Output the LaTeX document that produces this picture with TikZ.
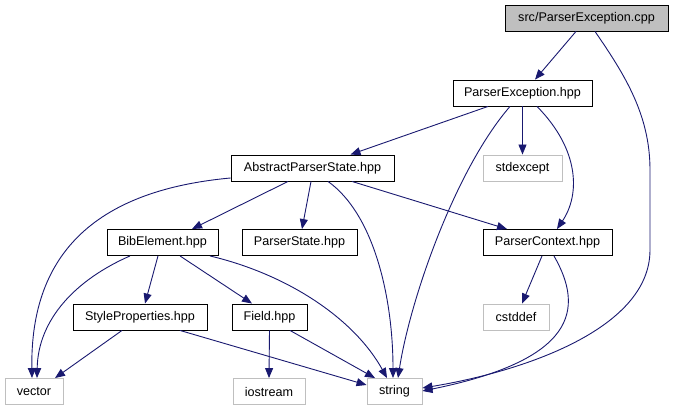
\documentclass[tikz,border=0pt]{standalone}
\usepackage{fontspec}
\setmainfont{Liberation Sans}
\usepackage{tikz}
\usetikzlibrary{arrows.meta, calc}
\definecolor{edgeblue}{RGB}{25,25,112}
\definecolor{rootgray}{RGB}{191,191,191}
\definecolor{sysgray}{RGB}{191,191,191}

\begin{document}
\begin{tikzpicture}[x=1pt, y=-1pt,
    file/.style={rectangle, draw=black, line width=0.9pt, minimum height=26pt, inner sep=0pt, font=\fontsize{12.6}{15}\selectfont},
    sysfile/.style={file, draw=sysgray},
    arrow/.style={-{Triangle[length=10pt,width=8pt]}, color=edgeblue, line width=0.9pt}
]
\useasboundingbox (0,0) rectangle (673,411);

% files of the project
\node[file, fill=rootgray, minimum width=163pt] (cpp) at (586.5,18) {src/ParserException.cpp};
\node[file, minimum width=139pt] (pexc) at (522.5,93) {ParserException.hpp};
\node[file, minimum width=163pt] (aps) at (312.5,168) {AbstractParserState.hpp};
\node[file, minimum width=111pt] (bib) at (162.5,242.5) {BibElement.hpp};
\node[file, minimum width=115pt] (pstate) at (299.5,242.5) {ParserState.hpp};
\node[file, minimum width=129pt] (pctx) at (547.5,242.5) {ParserContext.hpp};
\node[file, minimum width=134pt] (style) at (140,317) {StyleProperties.hpp};
\node[file, minimum width=75pt] (field) at (269.5,317) {Field.hpp};

% system headers
\node[sysfile, minimum width=79pt] (stdexc) at (522.5,168) {stdexcept};
\node[sysfile, minimum width=66pt] (cstddef) at (516,317) {cstddef};
\node[sysfile, minimum width=58pt] (vector) at (34,391.5) {vector};
\node[sysfile, minimum width=72pt] (iostream) at (269,391.5) {iostream};
\node[sysfile, minimum width=55pt] (string) at (394.5,391.5) {string};

% includes
\draw[arrow] ($(cpp.south)+(-10.5,0)$) -- ($(pexc.north)+(12.5,0)$);
\draw[arrow] ($(cpp.south)+(8.5,0)$) .. controls (625,75) and (650,115) .. (650,170) -- (650,250)
    .. controls (650,330) and (520,372) .. ($(string.east)+(0,-3.5)$);

\draw[arrow] ($(pexc.south)+(-34.5,0)$) -- ($(aps.north)+(38,0)$);
\draw[arrow] (pexc.south) -- (stdexc.north);
\draw[arrow] ($(pexc.south)+(-12.5,0)$) .. controls (455,170) and (410,300) .. ($(string.north)+(3.5,0)$);
\draw[arrow] ($(pexc.south)+(14.5,0)$) .. controls (580,150) and (580,195) .. ($(pctx.north)+(9.5,0)$);

\draw[arrow] ($(aps.west)+(0,10)$) .. controls (100,190) and (30,250) .. ($(vector.north)+(-2,0)$);
\draw[arrow] ($(aps.south)+(-24.5,0)$) -- ($(bib.north)+(29.5,0)$);
\draw[arrow] ($(aps.south)+(-1.5,0)$) -- ($(pstate.north)+(2.5,0)$);
\draw[arrow] ($(aps.south)+(15.5,0)$) .. controls (375,215) and (393,300) .. ($(string.north)+(-1.5,0)$);
\draw[arrow] ($(aps.south)+(39.5,0)$) -- ($(pctx.north)+(-40.5,0)$);

\draw[arrow] ($(bib.south)+(-32.5,0)$) .. controls (75,280) and (38,320) .. ($(vector.north)+(3,0)$);
\draw[arrow] ($(bib.south)+(-4.5,0)$) -- ($(style.north)+(5,0)$);
\draw[arrow] ($(bib.south)+(17.5,0)$) -- ($(field.north)+(-17.5,0)$);
\draw[arrow] ($(bib.south)+(47.5,0)$) .. controls (290,275) and (355,320) .. ($(string.north)+(-7.5,0)$);

\draw[arrow] ($(style.south)+(-18,0)$) -- ($(vector.north)+(21,0)$);
\draw[arrow] ($(style.south)+(40,0)$) -- ($(string.west)+(0,-6.5)$);

\draw[arrow] (field.south) -- (iostream.north);
\draw[arrow] ($(field.south)+(20.5,0)$) -- ($(string.north)+(-19.5,0)$);

\draw[arrow] ($(pctx.south)+(-5.5,0)$) -- ($(cstddef.north)+(6,0)$);
\draw[arrow] ($(pctx.south)+(6.5,0)$) .. controls (585,310) and (575,360) .. ($(string.east)+(0,-0.5)$);
\end{tikzpicture}
\end{document}
